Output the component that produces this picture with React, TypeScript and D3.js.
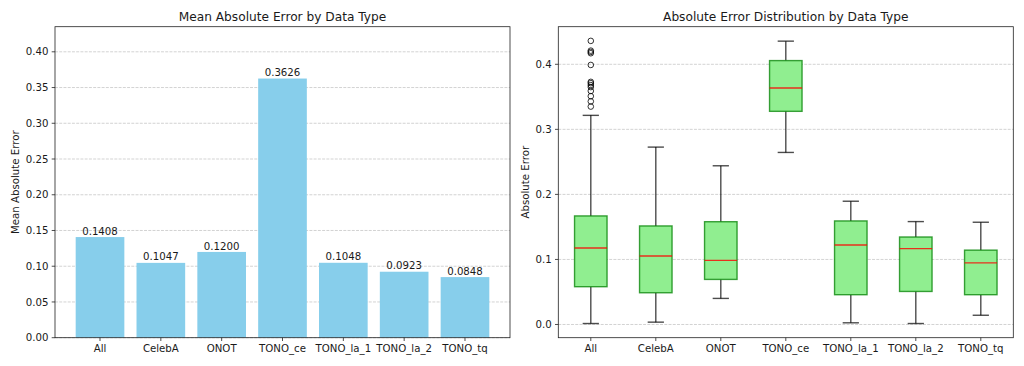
import React from "react";
import * as d3 from "d3";

const categories = ["All", "CelebA", "ONOT", "TONO_ce", "TONO_la_1", "TONO_la_2", "TONO_tq"];
const meanErrors = [0.1408, 0.1047, 0.12, 0.3626, 0.1048, 0.0923, 0.0848];

const whiskerLow = [0.0015, 0.0036, 0.0401, 0.2645, 0.0026, 0.0015, 0.0142];
const q1 = [0.0581, 0.0488, 0.0693, 0.3277, 0.0458, 0.0508, 0.0458];
const medians = [0.1176, 0.1053, 0.0986, 0.3636, 0.1222, 0.1166, 0.0948];
const q3 = [0.1669, 0.1515, 0.158, 0.4057, 0.1592, 0.1345, 0.1143];
const whiskerHigh = [0.3215, 0.2727, 0.244, 0.4356, 0.1895, 0.1582, 0.1572];
const outliersAll = [0.436, 0.421, 0.419, 0.417, 0.399, 0.373, 0.371, 0.368, 0.365, 0.359, 0.351, 0.343, 0.335];

const leftTicks = [0, 0.05, 0.1, 0.15, 0.2, 0.25, 0.3, 0.35, 0.4];
const rightTicks = [0, 0.1, 0.2, 0.3, 0.4];

const FONT = "DejaVu Sans";
const FS = 10.2;
const TFS = 12.2;
const TXT = "#1a1a1a";
const TOP = 26.7;
const BOTTOM = 337.7;

function Frame({ x0, x1 }: { x0: number; x1: number }) {
  return (
    <rect x={x0} y={TOP} width={x1 - x0} height={BOTTOM - TOP} fill="none" stroke="#222" strokeWidth={0.8} />
  );
}

function BarChart() {
  const x0 = 55, x1 = 510;
  const x = d3.scaleLinear().domain([-0.74, 6.74]).range([x0, x1]);
  const y = d3.scaleLinear().domain([0, 0.3626 * 1.2]).range([BOTTOM, TOP]);
  const bw = x(0.4) - x(0);
  return (
    <g>
      {leftTicks.map((t) => (
        <line key={"g" + t} x1={x0} x2={x1} y1={y(t)} y2={y(t)} stroke="#b0b0b0" strokeOpacity={0.7} strokeWidth={0.8} strokeDasharray="2.96,1.28" />
      ))}
      {categories.map((c, i) => (
        <rect key={c} x={x(i) - bw} width={2 * bw} y={y(meanErrors[i])} height={BOTTOM - y(meanErrors[i])} fill="#87CEEB" />
      ))}
      {categories.map((c, i) => (
        <text key={"v" + c} x={x(i)} y={y(meanErrors[i]) - 2.4} textAnchor="middle" fontFamily={FONT} fontSize={FS} fill={TXT}>
          {meanErrors[i].toFixed(4)}
        </text>
      ))}
      <Frame x0={x0} x1={x1} />
      {leftTicks.map((t) => (
        <g key={"t" + t}>
          <line x1={x0 - 3.3} x2={x0} y1={y(t)} y2={y(t)} stroke="#222" strokeWidth={0.8} />
          <text x={x0 - 6.6} y={y(t)} dy="0.35em" textAnchor="end" fontFamily={FONT} fontSize={FS} fill={TXT}>
            {t.toFixed(2)}
          </text>
        </g>
      ))}
      {categories.map((c, i) => (
        <g key={"x" + c}>
          <line x1={x(i)} x2={x(i)} y1={BOTTOM} y2={BOTTOM + 3.3} stroke="#222" strokeWidth={0.8} />
          <text x={x(i)} y={BOTTOM + 6.4} dy="0.76em" textAnchor="middle" fontFamily={FONT} fontSize={FS} fill={TXT}>
            {c}
          </text>
        </g>
      ))}
      <text x={(x0 + x1) / 2} y={20.5} textAnchor="middle" fontFamily={FONT} fontSize={TFS} fill={TXT}>
        Mean Absolute Error by Data Type
      </text>
      <text transform={`translate(19,${(TOP + BOTTOM) / 2}) rotate(-90)`} textAnchor="middle" fontFamily={FONT} fontSize={FS} fill={TXT}>
        Mean Absolute Error
      </text>
    </g>
  );
}

function BoxChart() {
  const x0 = 558.3, x1 = 1013.3;
  const x = d3.scaleLinear().domain([0.5, 7.5]).range([x0, x1]);
  const y = d3.scaleLinear().domain([-0.0203, 0.4578]).range([BOTTOM, TOP]);
  const hw = x(0.25) - x(0);
  const cw = x(0.125) - x(0);
  const wcol = "#000";
  return (
    <g>
      {rightTicks.map((t) => (
        <line key={"g" + t} x1={x0} x2={x1} y1={y(t)} y2={y(t)} stroke="#b0b0b0" strokeOpacity={0.7} strokeWidth={0.8} strokeDasharray="2.96,1.28" />
      ))}
      {categories.map((c, i) => {
        const cx = x(i + 1);
        return (
          <g key={c}>
            <line x1={cx} x2={cx} y1={y(q1[i])} y2={y(whiskerLow[i])} stroke={wcol} strokeOpacity={0.7} strokeWidth={1.4} />
            <line x1={cx} x2={cx} y1={y(q3[i])} y2={y(whiskerHigh[i])} stroke={wcol} strokeOpacity={0.7} strokeWidth={1.4} />
            <line x1={cx - cw} x2={cx + cw} y1={y(whiskerLow[i])} y2={y(whiskerLow[i])} stroke={wcol} strokeOpacity={0.7} strokeWidth={1.4} />
            <line x1={cx - cw} x2={cx + cw} y1={y(whiskerHigh[i])} y2={y(whiskerHigh[i])} stroke={wcol} strokeOpacity={0.7} strokeWidth={1.4} />
            <rect x={cx - hw} width={2 * hw} y={y(q3[i])} height={y(q1[i]) - y(q3[i])} fill="#90EE90" stroke="green" strokeOpacity={0.75} strokeWidth={1.4} />
            <line x1={cx - hw} x2={cx + hw} y1={y(medians[i])} y2={y(medians[i])} stroke="red" strokeOpacity={0.8} strokeWidth={1.4} />
          </g>
        );
      })}
      {outliersAll.map((v, k) => (
        <circle key={"o" + k} cx={x(1)} cy={y(v)} r={2.8} fill="none" stroke="#000" strokeWidth={0.8} />
      ))}
      <Frame x0={x0} x1={x1} />
      {rightTicks.map((t) => (
        <g key={"t" + t}>
          <line x1={x0 - 3.3} x2={x0} y1={y(t)} y2={y(t)} stroke="#222" strokeWidth={0.8} />
          <text x={x0 - 6.6} y={y(t)} dy="0.35em" textAnchor="end" fontFamily={FONT} fontSize={FS} fill={TXT}>
            {t.toFixed(1)}
          </text>
        </g>
      ))}
      {categories.map((c, i) => (
        <g key={"x" + c}>
          <line x1={x(i + 1)} x2={x(i + 1)} y1={BOTTOM} y2={BOTTOM + 3.3} stroke="#222" strokeWidth={0.8} />
          <text x={x(i + 1)} y={BOTTOM + 6.4} dy="0.76em" textAnchor="middle" fontFamily={FONT} fontSize={FS} fill={TXT}>
            {c}
          </text>
        </g>
      ))}
      <text x={(x0 + x1) / 2} y={20.5} textAnchor="middle" fontFamily={FONT} fontSize={TFS} fill={TXT}>
        Absolute Error Distribution by Data Type
      </text>
      <text transform={`translate(529,${(TOP + BOTTOM) / 2}) rotate(-90)`} textAnchor="middle" fontFamily={FONT} fontSize={FS} fill={TXT}>
        Absolute Error
      </text>
    </g>
  );
}

export default function App() {
  return (
    <svg width={1024} height={366} style={{ position: "absolute", left: 0, top: 0, background: "#fff" }}>
      <rect width={1024} height={366} fill="#fff" />
      <BarChart />
      <BoxChart />
    </svg>
  );
}
